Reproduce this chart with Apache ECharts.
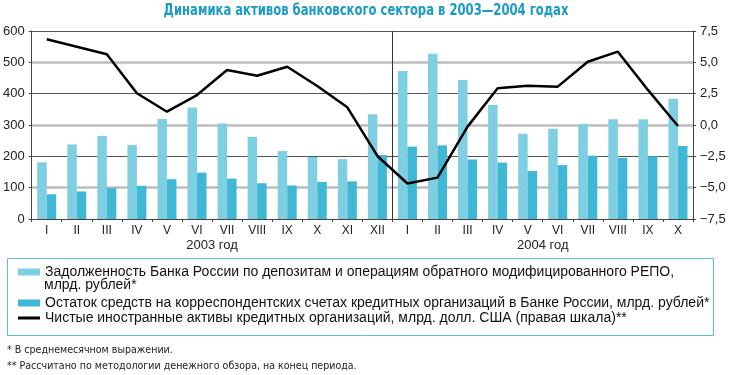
<!DOCTYPE html>
<html>
<head>
<meta charset="utf-8">
<script src="https://cdn.jsdelivr.net/npm/echarts@6/dist/echarts.min.js"></script>
<style>
  html, body { margin: 0; padding: 0; background: #fff; }
  #chart { width: 732px; height: 375px; }
</style>
</head>
<body>
<div id="chart"></div>
<script>
// месяцы
var months2003 = ['I', 'II', 'III', 'IV', 'V', 'VI', 'VII', 'VIII', 'IX', 'X', 'XI', 'XII']
var months2004 = ['I', 'II', 'III', 'IV', 'V', 'VI', 'VII', 'VIII', 'IX', 'X']
var yearLabels = ['2003 год', '2004 год']

// млрд. рублей
var repoDebt = [181, 238, 265, 236, 319, 356, 305, 262, 217, 198, 191, 334,
  472, 527, 444, 364, 272, 288, 303, 318, 318, 384]
var corrAccounts = [79, 88, 99, 106, 127, 148, 129, 114, 107, 118, 120, 204,
  231, 235, 190, 180, 153, 172, 202, 195, 200, 233]
// млрд. долл. США (правая шкала)
var netForeignAssets = [6.84, 6.25, 5.64, 2.53, 1.06, 2.39, 4.39, 3.93, 4.65, 3.11, 1.41, -2.47,
  -4.67, -4.2, -0.13, 2.93, 3.14, 3.06, 5.05, 5.85, 2.8, -0.08]

var leftTicks = [0, 600, 100]
var rightTicks = [-7.5, 7.5, 2.5]

var nameRepo = 'Задолженность Банка России по депозитам и операциям обратного модифицированного РЕПО, млрд. рублей*'
var nameCorr = 'Остаток средств на корреспондентских счетах кредитных организаций в Банке России, млрд. рублей*'
var nameNfa = 'Чистые иностранные активы кредитных организаций, млрд. долл. США (правая шкала)**'

var categories = months2003.concat(months2004)
var fontMain = "'Liberation Sans', Arial, sans-serif"
var fontNarrow = "'Liberation Sans Narrow', 'DejaVu Sans Condensed', 'Liberation Sans', sans-serif"

var chart = echarts.init(document.getElementById('chart'))
chart.setOption({
  animation: false,
  grid: {
    left: 29,
    right: 39,
    top: 31,
    bottom: 156
  },
  legend: [
    {
      orient: 'vertical',
      left: 18,
      top: 265,
      padding: 0,
      itemWidth: 22,
      itemHeight: 7,
      itemGap: 0,
      symbolKeepAspect: true,
      textStyle: {fontFamily: fontMain, fontSize: 14, color: '#111'},
      formatter: function () {
        return 'Задолженность Банка России по депозитам и операциям обратного модифицированного РЕПО,'
      },
      data: [{name: nameRepo, icon: 'rect'}]
    },
    {
      orient: 'vertical',
      left: 18,
      top: 296,
      padding: 0,
      itemWidth: 22,
      itemHeight: 7,
      itemGap: 1,
      symbolKeepAspect: true,
      textStyle: {fontFamily: fontMain, fontSize: 14, color: '#111'},
      data: [
        {name: nameCorr, icon: 'rect'},
        {name: nameNfa, icon: 'path://M0,0H22V3H0Z', itemStyle: {color: '#000'}}
      ]
    }
  ],
  graphic: [
    {
      type: 'text',
      x: 366,
      y: 11,
      scaleX: 0.86,
      style: {
        text: 'Динамика активов банковского сектора в 2003—2004 годах',
        font: 'bold 15px ' + fontNarrow,
        fill: '#1b9bc6',
        align: 'center',
        verticalAlign: 'middle'
      }
    },
    {
      type: 'rect',
      shape: {x: 7.5, y: 258.5, width: 706, height: 77},
      style: {fill: 'none', stroke: '#5bc0dc', lineWidth: 1},
      silent: true
    },
    {
      type: 'text',
      left: 44,
      top: 278,
      style: {text: 'млрд. рублей*', font: '14px ' + fontMain, fill: '#111'}
    },
    {
      type: 'text',
      x: 7,
      y: 350,
      scaleX: 0.96,
      style: {text: '* В среднемесячном выражении.', font: '11px ' + fontNarrow, fill: '#222', verticalAlign: 'middle'}
    },
    {
      type: 'text',
      x: 7,
      y: 366,
      scaleX: 0.96,
      style: {text: '** Рассчитано по методологии денежного обзора, на конец периода.', font: '11px ' + fontNarrow, fill: '#222', verticalAlign: 'middle'}
    }
  ],
  xAxis: [
    {
      type: 'category',
      data: categories,
      axisLine: {lineStyle: {color: '#444', width: 1}},
      axisTick: {show: true, length: 3, lineStyle: {color: '#444'}},
      axisLabel: {
        interval: 0,
        margin: 6,
        fontFamily: fontMain,
        fontSize: 12,
        color: '#222'
      }
    },
    {
      type: 'value',
      position: 'bottom',
      min: 0,
      max: months2003.length + months2004.length,
      axisLine: {show: false},
      splitLine: {show: false},
      axisTick: {
        show: true,
        customValues: [months2003.length],
        length: 7,
        lineStyle: {color: '#333'}
      },
      axisLabel: {
        customValues: [months2003.length / 2, months2003.length + months2004.length / 2],
        margin: 20,
        fontFamily: fontMain,
        fontSize: 13,
        color: '#222',
        formatter: function (v) {
          return v < months2003.length ? yearLabels[0] : yearLabels[1]
        }
      }
    }
  ],
  yAxis: [
    {
      type: 'value',
      min: leftTicks[0],
      max: leftTicks[1],
      interval: leftTicks[2],
      axisLine: {show: true, lineStyle: {color: '#444'}},
      axisTick: {show: true, length: 3, lineStyle: {color: '#444'}},
      axisLabel: {margin: 7, fontFamily: fontMain, fontSize: 13, color: '#222'},
      splitLine: {
        show: true,
        lineStyle: {color: ['rgba(0,0,0,0)', '#bdbdbd'], width: 2.5}
      }
    },
    {
      type: 'value',
      position: 'right',
      min: rightTicks[0],
      max: rightTicks[1],
      interval: rightTicks[2],
      axisLine: {show: true, lineStyle: {color: '#444'}},
      axisTick: {show: true, length: 3, lineStyle: {color: '#444'}},
      axisLabel: {
        margin: 7,
        fontFamily: fontMain,
        fontSize: 13,
        color: '#222',
        formatter: function (v) {
          return v.toFixed(1).replace('.', ',').replace('-', '−')
        }
      },
      splitLine: {
        show: true,
        lineStyle: {color: ['#555', 'rgba(0,0,0,0)'], width: 1}
      }
    }
  ],
  series: [
    {
      name: nameRepo,
      type: 'bar',
      barWidth: 9.5,
      barGap: '0%',
      itemStyle: {color: '#7fcfe2'},
      data: repoDebt
    },
    {
      name: nameCorr,
      type: 'bar',
      barWidth: 9.5,
      barGap: '0%',
      itemStyle: {color: '#40b7d5'},
      data: corrAccounts
    },
    {
      name: nameNfa,
      type: 'line',
      yAxisIndex: 1,
      symbol: 'none',
      lineStyle: {color: '#000', width: 2.5},
      itemStyle: {color: '#000'},
      data: netForeignAssets,
      z: 5
    },
    {
      name: 'separator',
      type: 'line',
      xAxisIndex: 1,
      yAxisIndex: 0,
      data: [],
      markLine: {
        silent: true,
        symbol: 'none',
        label: {show: false},
        lineStyle: {color: '#333', width: 1, type: 'solid'},
        data: [{xAxis: months2003.length}]
      }
    }
  ]
})
</script>
</body>
</html>
